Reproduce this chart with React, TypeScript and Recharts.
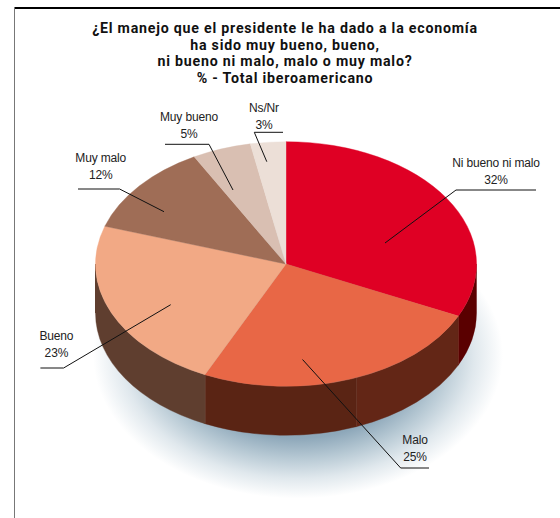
import React from "react";
import { PieChart, Pie, Cell } from "recharts";

const titleLines = [
  "¿El manejo que el presidente le ha dado a la economía",
  "ha sido muy bueno, bueno,",
  "ni bueno ni malo, malo o muy malo?",
  "% - Total iberoamericano",
];
const categories = ["Ni bueno ni malo", "Malo", "Bueno", "Muy malo", "Muy bueno", "Ns/Nr"];
const shares = [32, 25, 23, 12, 5, 3];
const topColors = ["#df0024", "#e86746", "#f2a985", "#9f6d56", "#d9bfb2", "#ecdfd7"];

// The rim is painted in bands: the Malo slice's rim has two shades.
const rimShares = [32, 12, 13, 23, 20];
const rimColors = ["#5a0000", "#632616", "#5a2414", "#5f3e2f", "#5f3e2f"];
const rimSeams = ["#8a2c2c", "#7a4a3c", "#7c5a4c", "#5f3e2f", "#5f3e2f"];

const CX = 286;
const CY = 264;
const RX = 190.5;
const SQUASH = 122.3 / 190.5;
const DEPTH = 49;

// Call-outs relative to the pie centre: [anchor, elbow, end], label centre, first line baseline
const callouts = [
  { line: [[99, -21], [170, -74], [250, -74]], tx: 210, ty: -97 },
  { line: [[16.5, 95.5], [114.7, 204], [143, 204]], tx: 129, ty: 180 },
  { line: [[-115.3, 40.7], [-222.4, 104], [-245.6, 104]], tx: -229.6, ty: 76 },
  { line: [[-122, -52.3], [-166.4, -75], [-208, -75]], tx: -185.3, ty: -102 },
  { line: [[-53, -74], [-77, -119.7], [-121, -119.7]], tx: -97, ty: -143 },
  { line: [[-19.2, -102.3], [-31.7, -131.7], [-3, -131.7]], tx: -22, ty: -152 },
];

const pt = (cx: number, cy: number, r: number, deg: number) => {
  const a = (deg * Math.PI) / 180;
  return [cx + r * Math.cos(a), cy - r * SQUASH * Math.sin(a)];
};

const TopSlice = (p: any) => {
  const [x0, y0] = pt(p.cx, p.cy, p.outerRadius, p.startAngle);
  const [x1, y1] = pt(p.cx, p.cy, p.outerRadius, p.endAngle);
  const large = Math.abs(p.endAngle - p.startAngle) > 180 ? 1 : 0;
  const ry = p.outerRadius * SQUASH;
  return (
    <path
      d={`M${p.cx},${p.cy}L${x0},${y0}A${p.outerRadius},${ry} 0 ${large} 1 ${x1},${y1}Z`}
      fill={p.fill}
      stroke={p.fill}
      strokeWidth={0.4}
    />
  );
};

const RimSlice = (p: any) => {
  // Angles run clockwise from 90; the visible front of the rim lies between 0 and -180.
  const start = Math.min(p.startAngle, 0);
  const end = Math.max(p.endAngle, -180);
  if (start <= end) return <g />;
  const r = p.outerRadius;
  const ry = r * SQUASH;
  const [x0, y0] = pt(p.cx, p.cy, r, start);
  const [x1, y1] = pt(p.cx, p.cy, r, end);
  return (
    <g>
      <path
        d={`M${x0},${y0}A${r},${ry} 0 0 1 ${x1},${y1}L${x1},${y1 + DEPTH}A${r},${ry} 0 0 0 ${x0},${y0 + DEPTH}Z`}
        fill={p.fill}
        stroke={p.fill}
        strokeWidth={0.4}
      />
      <line x1={x1} y1={y1} x2={x1} y2={y1 + DEPTH} stroke={p.stroke} strokeWidth={1} />
    </g>
  );
};

const ShadowShape = (p: any) => (
  <ellipse cx={p.cx} cy={p.cy} rx={p.outerRadius} ry={p.outerRadius * 0.7} fill="url(#pieShadow)" />
);

const renderCallout = (p: any) => {
  const c = callouts[p.index];
  const pts = c.line.map(([x, y]) => `${CX + x},${CY + y}`).join(" ");
  const font = { fontFamily: "'Liberation Sans', sans-serif", fontSize: 12, fill: "#222222", textAnchor: "middle" as const };
  return (
    <g key={p.index}>
      <polyline points={pts} fill="none" stroke="#111111" strokeWidth={1} />
      <text x={CX + c.tx} y={CY + c.ty} {...font} letterSpacing={-0.15}>{categories[p.index]}</text>
      <text x={CX + c.tx} y={CY + c.ty + 17} {...font} letterSpacing={-0.15}>{`${shares[p.index]}%`}</text>
    </g>
  );
};

const topData = categories.map((name, i) => ({ name, value: shares[i] }));
const rimData = rimShares.map((value, i) => ({ name: `r${i}`, value }));
const shadowData = [{ name: "shadow", value: 100 }];

export default function App() {
  return (
    <div style={{ position: "absolute", left: 0, top: 0, width: 560, height: 518, background: "#fff", overflow: "hidden" }}>
      <div style={{ position: "absolute", left: 14, top: 7, right: 0, height: 2, background: "#000" }} />
      <div style={{ position: "absolute", left: 14, top: 7, bottom: 0, width: 1, background: "#777" }} />
      <PieChart width={560} height={518} margin={{ top: 0, right: 0, bottom: 0, left: 0 }} style={{ position: "absolute", left: 0, top: 0 }}>
        <defs>
          <radialGradient id="pieShadow">
            <stop offset="0%" stopColor="#7d99ad" />
            <stop offset="58%" stopColor="#8ea8ba" />
            <stop offset="72%" stopColor="#b7c9d4" />
            <stop offset="86%" stopColor="#e0e8ed" />
            <stop offset="100%" stopColor="#ffffff" />
          </radialGradient>
        </defs>
        <Pie data={shadowData} dataKey="value" cx={298} cy={355} outerRadius={205} innerRadius={0} startAngle={90} endAngle={-270}
          isAnimationActive={false} stroke="none" shape={ShadowShape} inactiveShape={ShadowShape} activeShape={ShadowShape}>
          <Cell fill="#8ea8ba" />
        </Pie>
        <Pie data={rimData} dataKey="value" cx={CX} cy={CY} outerRadius={RX} innerRadius={0} startAngle={90} endAngle={-270}
          isAnimationActive={false} shape={RimSlice} inactiveShape={RimSlice} activeShape={RimSlice}>
          {rimColors.map((c, i) => <Cell key={i} fill={c} stroke={rimSeams[i]} />)}
        </Pie>
        <Pie data={topData} dataKey="value" nameKey="name" cx={CX} cy={CY} outerRadius={RX} innerRadius={0} startAngle={90} endAngle={-270}
          isAnimationActive={false} shape={TopSlice} inactiveShape={TopSlice} activeShape={TopSlice} label={renderCallout} labelLine={false}>
          {topColors.map((c, i) => <Cell key={i} fill={c} />)}
        </Pie>
        {titleLines.map((t, i) => (
          <text key={i} x={285} y={33 + i * 16.6} textAnchor="middle" fontFamily="Roboto, sans-serif" fontWeight={700} fontSize={14.2} letterSpacing={0.78} fill="#111111">{t}</text>
        ))}
      </PieChart>
    </div>
  );
}
